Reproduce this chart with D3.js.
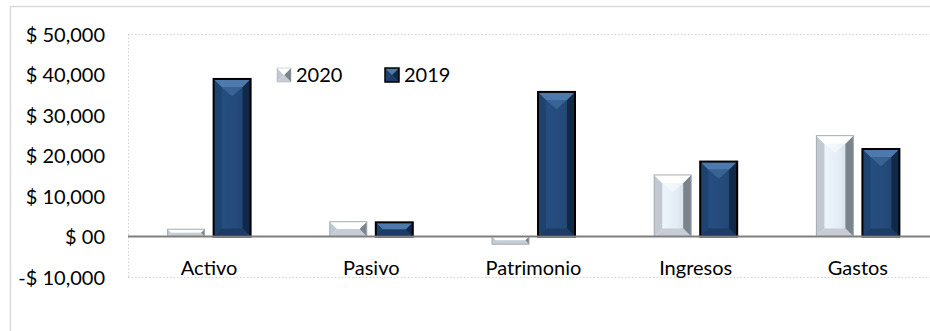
<!DOCTYPE html>
<html>
<head>
<meta charset="utf-8">
<script src="https://cdn.jsdelivr.net/npm/d3@7"></script>
<style>
  html, body { margin: 0; padding: 0; background: #fff; }
  svg { display: block; font-family: Lato, "Open Sans", sans-serif; }
</style>
</head>
<body>
<svg id="chart" width="930" height="331"></svg>
<script>
// Balance figures by account group
const categories = ["Activo", "Pasivo", "Patrimonio", "Ingresos", "Gastos"];
const seriesNames = ["2020", "2019"];
const values2020 = [1800, 3650, -1900, 15200, 24900];
const values2019 = [38900, 3500, 35700, 18500, 21600];
const yTicks = [-10000, 0, 10000, 20000, 30000, 40000, 50000];

const seriesValues = { "2020": values2020, "2019": values2019 };

const svg = d3.select("#chart");
const W = 930, H = 331;
const plot = { left: 128, right: 939, top: 34, bottom: 277 };
const FS = 20;

// Face colours for the bevelled columns
const palette = {
  "2020": { face: "#e4ecf6", top: "#ffffff", left: "#c2c9d1", right: "#7b838b", bottom: "#c8cdd3", stroke: "#a3aab1", sw: 1 },
  "2019": { face: "#244b7b", top: "#4d79ad", left: "#1f436f", right: "#112846", bottom: "#1c3c63", stroke: "#000000", sw: 2 }
};

const defs = svg.append("defs");
Object.entries(palette).forEach(([k, c]) => {
  const g = defs.append("linearGradient").attr("id", "face" + k).attr("x1", 0).attr("x2", 1).attr("y1", 0).attr("y2", 0);
  g.append("stop").attr("offset", "0%").attr("stop-color", d3.color(c.face).brighter(0.15));
  g.append("stop").attr("offset", "60%").attr("stop-color", c.face);
  g.append("stop").attr("offset", "100%").attr("stop-color", d3.color(c.face).darker(0.3));
});

// Outer chart frame
svg.append("rect")
  .attr("x", 10.5).attr("y", 6.5).attr("width", 1000).attr("height", 1000)
  .attr("fill", "none").attr("stroke", "#d9d9d9").attr("stroke-width", 1.5);

const y = d3.scaleLinear().domain([-10000, 50000]).range([plot.bottom, plot.top]);
const x0 = d3.scaleBand().domain(categories).range([plot.left, plot.right]).padding(0);
const x1 = d3.scaleBand().domain(seriesNames).range([-41.5, 41.5]).paddingInner(0.196).paddingOuter(0);

// Dotted plot-area border
const dotted = svg.append("g").attr("stroke", "#d0d0d0").attr("stroke-width", 1).attr("stroke-dasharray", "1.5,2").attr("fill", "none");
dotted.append("line").attr("x1", plot.left).attr("x2", W).attr("y1", y(50000) + 0.5).attr("y2", y(50000) + 0.5);
dotted.append("line").attr("x1", plot.left).attr("x2", W).attr("y1", y(-10000) + 0.5).attr("y2", y(-10000) + 0.5);
dotted.append("line").attr("x1", plot.left + 0.5).attr("x2", plot.left + 0.5).attr("y1", y(50000)).attr("y2", y(-10000));

// Y axis labels
const fmt = v => {
  if (v === 0) return "$ 00";
  const s = "$ " + d3.format(",")(Math.abs(v));
  return v < 0 ? "-" + s : s;
};
const yAxis = d3.axisLeft(y).tickValues(yTicks).tickFormat(fmt).tickSize(0).tickPadding(0);
const yg = svg.append("g").attr("transform", `translate(105,0)`).call(yAxis);
yg.select(".domain").remove();
yg.selectAll("text").attr("font-size", FS).attr("fill", "#000").attr("font-family", "Lato, sans-serif").attr("dy", "0.35em");

// Bevelled column
function bevelBar(g, bx, bw, yTop, yBot, c) {
  const h = yBot - yTop;
  const b = Math.max(0, Math.min(8, h / 2, bw / 2));
  const xA = bx, xB = bx + bw;
  const poly = pts => pts.map(p => p.join(",")).join(" ");
  g.append("rect").attr("x", xA).attr("y", yTop).attr("width", bw).attr("height", h).attr("fill", `url(#face${c.key})`);
  g.append("polygon").attr("points", poly([[xA, yTop], [xA + b, yTop + b], [xA + b, yBot - b], [xA, yBot]])).attr("fill", c.left);
  g.append("polygon").attr("points", poly([[xB, yTop], [xB - b, yTop + b], [xB - b, yBot - b], [xB, yBot]])).attr("fill", c.right);
  g.append("polygon").attr("points", poly([[xA, yTop], [xB, yTop], [xB - b, yTop + b], [xA + b, yTop + b]])).attr("fill", c.top);
  g.append("polygon").attr("points", poly([[xA, yBot], [xB, yBot], [xB - b, yBot - b], [xA + b, yBot - b]])).attr("fill", c.bottom);
  // soft V highlight at the top of the face
  g.append("polygon").attr("points", poly([[xA + b, yTop + b], [xB - b, yTop + b], [(xA + xB) / 2, yTop + Math.min(h / 2, b + bw * 0.25)]]))
    .attr("fill", c.top).attr("opacity", 0.5);
  g.append("rect").attr("x", xA).attr("y", yTop).attr("width", bw).attr("height", h)
    .attr("fill", "none").attr("stroke", c.stroke).attr("stroke-width", c.sw);
}

const bars = svg.append("g");
categories.forEach((cat, i) => {
  const cx = x0(cat) + x0.bandwidth() / 2;
  seriesNames.forEach(s => {
    const v = seriesValues[s][i];
    const c = Object.assign({ key: s }, palette[s]);
    const yTop = y(Math.max(0, v)), yBot = y(Math.min(0, v));
    bevelBar(bars.append("g"), cx + x1(s), x1.bandwidth(), yTop, yBot, c);
  });
});

// Zero line
svg.append("line").attr("x1", plot.left).attr("x2", W).attr("y1", y(0)).attr("y2", y(0))
  .attr("stroke", "#7f7f7f").attr("stroke-width", 2);

// Category labels
const xAxis = d3.axisBottom(x0).tickSize(0).tickPadding(0);
const xg = svg.append("g").attr("transform", `translate(0,${y(0)})`).call(xAxis);
xg.select(".domain").remove();
xg.selectAll("text").attr("font-size", FS).attr("fill", "#000").attr("font-family", "Lato, sans-serif")
  .attr("y", 31).attr("dy", "0.35em");

// Legend
const legendX = [277, 385];
const leg = svg.append("g");
seriesNames.forEach((s, i) => {
  const c = Object.assign({ key: s }, palette[s]);
  const g = leg.append("g");
  bevelBar(g, legendX[i], 14, 68, 82, Object.assign({}, c, { sw: s === "2019" ? 1.5 : 0.5 }));
  g.append("text").attr("x", legendX[i] + 19).attr("y", 75).attr("dy", "0.35em")
    .attr("font-size", FS).attr("fill", "#000").text(s);
});
</script>
</body>
</html>
